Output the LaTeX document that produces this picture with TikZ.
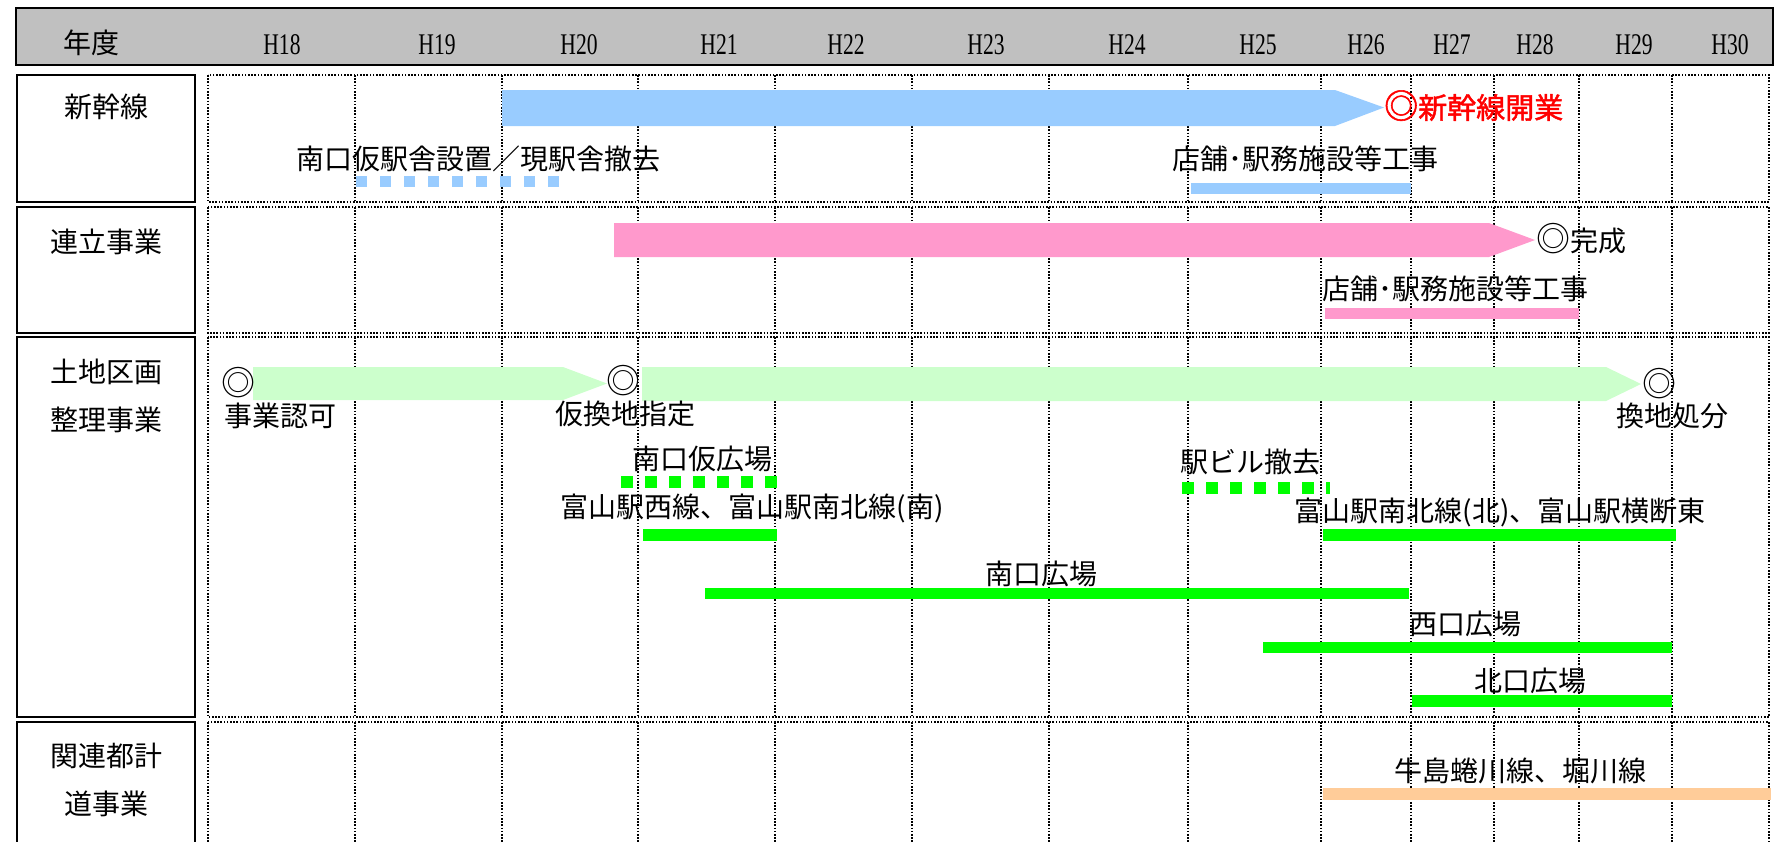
\documentclass[tikz,border=0pt]{standalone}
\usepackage{fontspec}
\setmainfont{Noto Sans CJK JP}
\newfontfamily\hfont[FakeStretch=0.72]{Liberation Serif}
\newfontfamily\jpbold[FakeBold=1.6]{Noto Sans CJK JP}
\newcommand{\dmark}{{\fontsize{34}{34}\selectfont ◎}}
\definecolor{hgray}{HTML}{C0C0C0}
\definecolor{sblue}{HTML}{99CCFF}
\definecolor{spink}{HTML}{FF99CC}
\definecolor{lgreen}{HTML}{CCFFCC}
\definecolor{sgreen}{HTML}{00FF00}
\definecolor{speach}{HTML}{FFCC99}
\definecolor{sred}{HTML}{FF0000}
\begin{document}
\begin{tikzpicture}[x=1pt,y=-1pt,
  txt/.style={inner sep=0pt, font=\fontsize{28}{32}\selectfont, text height=22.5pt, text depth=3.5pt},
  htxt/.style={inner sep=0pt, font=\hfont\fontsize{30}{34}\selectfont},
  gridline/.style={line width=1.1pt, dash pattern=on 1.6pt off 1.6pt},
  labbox/.style={line width=2.5pt}]
\useasboundingbox (0,0) rectangle (1783,841);
\clip (0,0) rectangle (1783,841);
% header
\draw[fill=hgray, line width=2.5pt] (16,8) rectangle (1773,65);
\node[txt] (nendo) at (91,44) {年度};
\foreach \lab/\x in {H18/282,H19/437,H20/579,H21/719,H22/846,H23/986,H24/1127,H25/1258,H26/1366,H27/1452,H28/1535,H29/1634,H30/1730}
  \node[htxt] (h\lab) at (\x,45) {\lab};
% label boxes
\draw[labbox] (17,75) rectangle (195,202);
\draw[labbox] (17,207) rectangle (195,333);
\draw[labbox] (17,337) rectangle (195,717);
\draw[labbox] (17,722) rectangle (195,880);
\node[txt] (l1) at (106,108) {新幹線};
\node[txt] (l2) at (106,243) {連立事業};
\node[txt] (l3a) at (106,373) {土地区画};
\node[txt] (l3b) at (106,421) {整理事業};
\node[txt] (l4a) at (106,757) {関連都計};
\node[txt] (l4b) at (106,805) {道事業};
% panels
\foreach \ya/\yb in {75/202,207/333,337/717,722/880}{
  \draw[gridline] (208,\ya) rectangle (1769,\yb);
  \foreach \x in {355,502,638,775,912,1049,1188,1321,1411,1494,1579,1672}
    \draw[gridline] (\x,\ya) -- (\x,\yb);
}
% row 1
\fill[sblue] (502,90) -- (1335,90) -- (1384,107.5) -- (1335,126) -- (502,126) -- cycle;
\node[txt, anchor=west, text=sred, font=\jpbold\fontsize{29}{32}\selectfont] (kaigyo) at (1384,109) {\dmark 新幹線開業};
\node[txt] (t1a) at (478,160) {南口仮駅舎設置／現駅舎撤去};
\draw[sblue, line width=11pt, dash pattern=on 11pt off 13pt] (356,181) -- (559,181);
\node[txt] (t1b) at (1305,160) {店舗･駅務施設等工事};
\fill[sblue] (1191,183) rectangle (1411,194);
% row 2
\fill[spink] (614,223) -- (1489,223) -- (1535,240) -- (1489,257) -- (614,257) -- cycle;
\node[txt, anchor=west] (kansei) at (1536,242) {\dmark 完成};
\node[txt] (t2a) at (1455,290) {店舗･駅務施設等工事};
\fill[spink] (1325,308) rectangle (1579,319);
% row 3
\fill[lgreen] (253,367) -- (563,367) -- (607,383.5) -- (563,400) -- (253,400) -- cycle;
\fill[lgreen] (642,367) -- (1606,367) -- (1641,384) -- (1606,401) -- (642,401) -- cycle;
\node[txt] (m1) at (238,386) {\dmark};
\node[txt] (t3a) at (280,417) {事業認可};
\node[txt] (m2) at (623,384) {\dmark};
\node[txt] (t3b) at (625,415) {仮換地指定};
\node[txt] (m3) at (1659,387) {\dmark};
\node[txt] (t3c) at (1672,417) {換地処分};
\node[txt] (t3d) at (702,460) {南口仮広場};
\draw[sgreen, line width=12pt, dash pattern=on 12pt off 12pt] (621,482) -- (778,482);
\node[txt] (t3e) at (752,508) {富山駅西線、富山駅南北線(南)};
\fill[sgreen] (643,529) rectangle (777,541);
\node[txt] (t3f) at (1250,463) {駅ビル撤去};
\draw[sgreen, line width=12pt, dash pattern=on 12pt off 12pt] (1182,487.5) -- (1330,487.5);
\node[txt] (t3g) at (1500,512) {富山駅南北線(北)、富山駅横断東};
\fill[sgreen] (1323,529) rectangle (1676,541);
\node[txt] (t3h) at (1041,575) {南口広場};
\fill[sgreen] (705,588) rectangle (1409,599);
\node[txt] (t3i) at (1465,625) {西口広場};
\fill[sgreen] (1263,642) rectangle (1672,653);
\node[txt] (t3j) at (1530,682) {北口広場};
\fill[sgreen] (1412,695) rectangle (1672,707);
% row 4
\node[txt] (t4a) at (1520,772) {牛島蜷川線、堀川線};
\fill[speach] (1323,788) rectangle (1771,800);
\end{tikzpicture}
\end{document}
